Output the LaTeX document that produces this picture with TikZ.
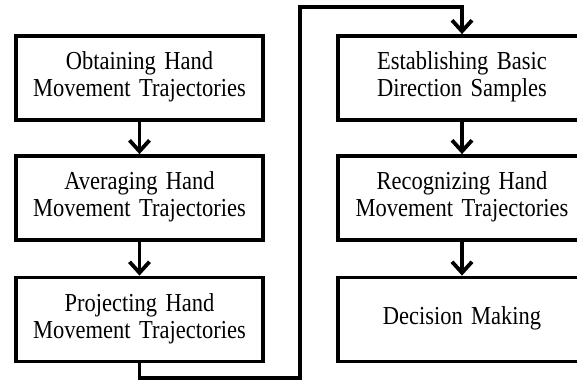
\documentclass[tikz,border=0pt]{standalone}
\usepackage{fontspec}
\setmainfont{Liberation Serif}[WordSpace=1.5]
\usetikzlibrary{arrows.meta}
\newcommand{\boxtext}[1]{\raisebox{-2pt}{\scalebox{1}[1.15]{\begin{tabular}{@{}c@{}}#1\end{tabular}}}}
\begin{document}
\begin{tikzpicture}[x=1pt,y=-1pt,
  stepbox/.style={draw=black,line width=3.8pt,minimum width=247pt,minimum height=84pt,
    align=center,inner sep=0pt,font=\fontsize{22.5}{23.5}\selectfont,fill=white},
  flow/.style={line width=3.8pt,-{Straight Barb[length=11pt,width=20pt]}}]
\useasboundingbox (0,0) rectangle (577,391);
\node[stepbox] (b1) at (139.5,78) {\boxtext{Obtaining Hand\\Movement Trajectories}};
\node[stepbox] (b2) at (139.5,198) {\boxtext{Averaging Hand\\Movement Trajectories}};
\node[stepbox] (b3) at (139.5,319.5) {\boxtext{Projecting Hand\\Movement Trajectories}};
\node[stepbox,minimum width=248pt] (r1) at (462,78) {\boxtext{Establishing Basic\\Direction Samples}};
\node[stepbox,minimum width=248pt] (r2) at (462,198) {\boxtext{Recognizing Hand\\Movement Trajectories}};
\node[stepbox,minimum width=248pt] (r3) at (462,319.5) {\boxtext{Decision Making}};
\coordinate (c1) at (300,378);
\coordinate (c2) at (300,7);
\draw[flow] (b1) -- (b2);
\draw[flow] (b2) -- (b3);
\draw[flow] (r1) -- (r2);
\draw[flow] (r2) -- (r3);
\draw[flow] (b3.south) |- (c1) -- (c2) -| (r1.north);
\end{tikzpicture}
\end{document}
